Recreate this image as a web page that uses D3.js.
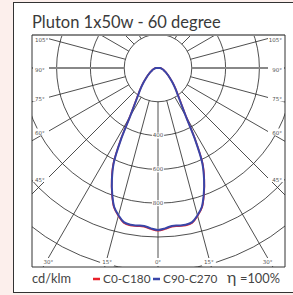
<!DOCTYPE html>
<html>
<head>
<meta charset="utf-8">
<script src="https://cdn.jsdelivr.net/npm/d3@7"></script>
<style>
body { margin: 0; background: #fcefec; }
svg { display: block; }
</style>
</head>
<body>
<div id="chart"></div>
<script>
var title = "Pluton 1x50w - 60 degree";
// gamma angle from nadir (deg) and intensity (cd/klm)
var gamma = [0, 2.5, 5, 7.5, 10, 12.5, 15, 17.5, 20, 22.5, 25, 27.5, 30, 35, 40, 45, 50, 55, 60, 65, 70, 75, 80, 85, 90];
var c0c180 = [962, 954, 942, 944, 946, 938, 906, 866, 796, 716, 626, 476, 334, 220, 163, 123, 92, 72, 56, 44, 36, 29, 23, 19, 16];
var c90c270 = [958, 950, 938, 940, 942, 934, 902, 862, 792, 712, 620, 470, 330, 215, 160, 120, 90, 70, 55, 42, 35, 28, 22, 18, 15];
var rings = [200, 400, 600, 800, 1000, 1200];
var ringLabels = [400, 600, 800];
var spokes = [0, 15, 30, 45, 60, 75, 90, 105, 120, 135, 150, 165, 180];
var sideLabels = [45, 60, 75, 90, 105];
var bottomLabels = [0, 15, 30];
var seriesNames = ["C0-C180", "C90-C270"];
var seriesColors = ["#e8202a", "#3a45a8"];

var W = 293, H = 295;
var svg = d3.select("#chart").append("svg").attr("width", W).attr("height", H);

// card
svg.append("rect").attr("x", 13.5).attr("y", 2.5).attr("width", 290).attr("height", 290)
  .attr("fill", "#fff").attr("stroke", "#333").attr("stroke-width", 1);

svg.append("text").attr("x", 32).attr("y", 27.5).text(title)
  .attr("font-family", "Lato, 'DejaVu Sans', sans-serif").attr("font-size", 16.5)
  .attr("fill", "#3a3a3a");

var fx0 = 32, fx1 = 285, fy0 = 35, fy1 = 267;
var cx = 158, cy = 68;
var r = d3.scaleLinear().domain([0, 200]).range([0, 33.8]);

svg.append("clipPath").attr("id", "frame").append("rect")
  .attr("x", fx0).attr("y", fy0).attr("width", fx1 - fx0).attr("height", fy1 - fy0);

var g = svg.append("g").attr("clip-path", "url(#frame)");
var gc = g.append("g").attr("transform", "translate(" + cx + "," + cy + ")");

// rings
gc.selectAll(".ring").data(rings).enter().append("circle")
  .attr("r", function(d) { return r(d); })
  .attr("fill", "none").attr("stroke", "#222").attr("stroke-width", 0.8);

// spokes, both sides
var spokeData = [];
spokes.forEach(function(a) {
  spokeData.push({a: a, s: 1});
  if (a != 0 && a != 180) spokeData.push({a: a, s: -1});
});
gc.selectAll(".spoke").data(spokeData).enter().append("line")
  .attr("x1", function(d) { return d.s * Math.sin(d.a * Math.PI / 180) * r(200); })
  .attr("y1", function(d) { return Math.cos(d.a * Math.PI / 180) * r(200); })
  .attr("x2", function(d) { return d.s * Math.sin(d.a * Math.PI / 180) * 400; })
  .attr("y2", function(d) { return Math.cos(d.a * Math.PI / 180) * 400; })
  .attr("stroke", function(d) { return d.a == 90 ? "#888" : "#222"; })
  .attr("stroke-width", function(d) { return d.a == 90 ? 2 : 0.8; });

// label masks + labels
var lab = svg.append("g").attr("font-family", "'DejaVu Sans', sans-serif")
  .attr("font-size", 5.5).attr("fill", "#555");

function addLabel(x, y, txt, anchor) {
  var t = lab.append("text").attr("x", x).attr("y", y).attr("text-anchor", anchor)
    .attr("dominant-baseline", "middle").text(txt);
  return t;
}

sideLabels.forEach(function(a) {
  var rad = a * Math.PI / 180;
  var dx = 110;
  var y = cy + dx / Math.tan(rad);
  if (a == 90) y = cy;
  [-1, 1].forEach(function(s) {
    var bx = s < 0 ? fx0 + 1 : fx1 - 17;
    lab.append("rect").attr("x", bx).attr("y", y - 3).attr("width", 16).attr("height", 7).attr("fill", "#fff");
    addLabel(s < 0 ? fx0 + 3 : fx1 - 3, y + 2, a + "°", s < 0 ? "start" : "end");
  });
});
bottomLabels.forEach(function(a) {
  var rad = a * Math.PI / 180;
  var x = 190 * Math.tan(rad);
  [-1, 1].forEach(function(s) {
    if (a == 0 && s < 0) return;
    var px = Math.min(Math.max(cx + s * x, fx0 + 9), fx1 - 9);
    lab.append("rect").attr("x", px - 7).attr("y", fy1 - 9).attr("width", 14).attr("height", 8).attr("fill", "#fff");
    addLabel(px, fy1 - 5, a + "°", "middle");
  });
});
ringLabels.forEach(function(v) {
  lab.append("rect").attr("x", cx - 6).attr("y", cy + r(v) - 3).attr("width", 12).attr("height", 6).attr("fill", "#fff");
  addLabel(cx, cy + r(v), v, "middle");
});

// frame
svg.append("line").attr("x1", fx0).attr("x2", fx1).attr("y1", fy0).attr("y2", fy0)
  .attr("stroke", "#888").attr("stroke-width", 2);
svg.append("line").attr("x1", fx0).attr("x2", fx0).attr("y1", fy0).attr("y2", fy1)
  .attr("stroke", "#333").attr("stroke-width", 1);
svg.append("line").attr("x1", fx1).attr("x2", fx1).attr("y1", fy0).attr("y2", fy1)
  .attr("stroke", "#333").attr("stroke-width", 1);
svg.append("line").attr("x1", fx0).attr("x2", fx1).attr("y1", fy1).attr("y2", fy1)
  .attr("stroke", "#333").attr("stroke-width", 1);

// curves: left half from 90 down to nadir, then right half back up to 90
function curvePts(vals) {
  var pts = [];
  for (var i = gamma.length - 1; i >= 0; i--) pts.push([Math.PI + gamma[i] * Math.PI / 180, r(vals[i])]);
  for (var j = 1; j < gamma.length; j++) pts.push([Math.PI - gamma[j] * Math.PI / 180, r(vals[j])]);
  return pts;
}
var line = d3.lineRadial().angle(function(d) { return d[0]; }).radius(function(d) { return d[1]; })
  .curve(d3.curveCatmullRom.alpha(0.5));
[c0c180, c90c270].forEach(function(vals, i) {
  svg.append("path").attr("transform", "translate(" + cx + "," + cy + ")")
    .attr("d", line(curvePts(vals)) + "Z").attr("fill", "none")
    .attr("stroke", seriesColors[i]).attr("stroke-width", i == 0 ? 1.6 : 2);
});

// footer
var ft = svg.append("g").attr("font-family", "Lato, 'DejaVu Sans', sans-serif").attr("fill", "#444");
ft.append("text").attr("x", 32).attr("y", 283).attr("font-size", 12.8).text("cd/klm");
var lx = [93, 153];
seriesNames.forEach(function(n, i) {
  ft.append("line").attr("x1", lx[i]).attr("x2", lx[i] + 7).attr("y1", 279).attr("y2", 279)
    .attr("stroke", seriesColors[i]).attr("stroke-width", 2.5);
  ft.append("text").attr("x", lx[i] + 10).attr("y", 283).attr("font-size", 11.8).text(n);
});
ft.append("text").attr("x", 227).attr("y", 283).attr("font-size", 16).text("η");
ft.append("text").attr("x", 240).attr("y", 283).attr("font-size", 12.8).text("=100%");
</script>
</body>
</html>
